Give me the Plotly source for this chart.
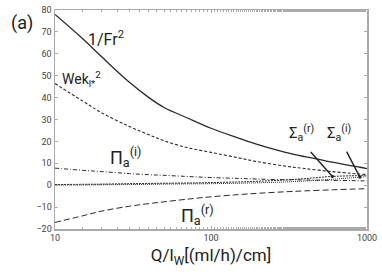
import math
import plotly.graph_objects as go

Q = [10, 15, 20, 30, 40, 50, 70, 100, 150, 200, 300, 400, 600, 800, 900, 1000]
inv_fr2 = [78, 67, 58.5, 47, 40, 35.5, 30.8, 26, 21.5, 18.5, 15, 13, 10.5, 8.8, 8.2, 7.6]
wek2 = [46.4, 38.5, 33, 26.8, 23, 20.3, 17.2, 15, 12.5, 10.7, 8.7, 7.6, 6.2, 5.4, 5.1, 4.9]
pi_i = [7.8, 6.8, 6.2, 5.3, 4.8, 4.5, 4.0, 3.5, 3.1, 2.8, 2.5, 2.4, 2.2, 2.1, 2.0, 2.0]
pi_r = [-17, -14, -11.8, -9.6, -8.4, -7.6, -6.4, -5.3, -4.3, -3.7, -3.0, -2.6, -2.1, -1.8, -1.7, -1.6]
sig_r = [0.3, 0.4, 0.5, 0.7, 0.8, 0.9, 1.0, 1.2, 1.5, 1.8, 2.4, 3.0, 4.0, 4.3, 4.4, 4.5]
sig_i = [0.0, 0.1, 0.2, 0.3, 0.4, 0.5, 0.6, 0.7, 0.9, 1.1, 1.5, 1.9, 2.7, 3.4, 3.7, 3.9]

x_ticks = [10, 100, 1000]
y_ticks = [-20, -10, 0, 10, 20, 30, 40, 50, 60, 70, 80]

LC = "#2a2a2a"
FONT = "Liberation Sans Narrow, Roboto, Noto Sans"
fig = go.Figure()
fig.add_trace(go.Scatter(x=Q, y=inv_fr2, mode="lines", line=dict(color=LC, width=1.3, shape="spline")))
fig.add_trace(go.Scatter(x=Q, y=wek2, mode="lines", line=dict(color=LC, width=1.1, dash="3px,2px", shape="spline")))
fig.add_trace(go.Scatter(x=Q, y=pi_i, mode="lines", line=dict(color=LC, width=1.0, dash="4px,2px,1px,2px", shape="spline")))
fig.add_trace(go.Scatter(x=Q, y=pi_r, mode="lines", line=dict(color=LC, width=1.0, dash="6px,3px", shape="spline")))
fig.add_trace(go.Scatter(x=Q, y=sig_r, mode="lines", line=dict(color=LC, width=1.0, dash="2px,1px", shape="spline")))
fig.add_trace(go.Scatter(x=Q, y=sig_i, mode="lines", line=dict(color=LC, width=1.0, dash="1px,1px", shape="spline")))

W, H = 382, 278
L, R, T, B = 55, 14, 5, 49
pw, ph = W - L - R, H - T - B

labels = [
    (106, 34, "1/Fr<sup>2</sup>", 16),
    (82, 76, "Wek<sub>l*</sub><sup>2</sup>", 14),
    (126, 155, "Π<sub>a</sub><sup>(i)</sup>", 18),
    (198, 215, "Π<sub>a</sub><sup>(r)</sup>", 18),
    (302, 131, "Σ<sub>a</sub><sup>(r)</sup>", 15),
    (340, 131, "Σ<sub>a</sub><sup>(i)</sup>", 15),
]
final = [dict(x=0.0, y=1.0, xref="paper", yref="paper", xshift=-20, text="(a)", showarrow=False,
              xanchor="right", yanchor="top", font=dict(size=18, family=FONT, color="#222"))]
for px, py, txt, sz in labels:
    final.append(dict(x=(px - L) / pw, y=1 - (py - T) / ph, xref="paper", yref="paper",
                      xanchor="center", yanchor="middle", text=txt, showarrow=False,
                      font=dict(size=sz, family=FONT, color="#222")))

final.append(dict(x=math.log10(Q[12]), y=sig_r[12], xref="x", yref="y", ax=-23, ay=-26, text="",
                  showarrow=True, arrowhead=6, arrowsize=0.6, arrowwidth=1.4, arrowcolor="#222"))
final.append(dict(x=math.log10(Q[14]), y=sig_i[14], xref="x", yref="y", ax=-14, ay=-27, text="",
                  showarrow=True, arrowhead=6, arrowsize=0.6, arrowwidth=1.4, arrowcolor="#222"))

axis_common = dict(showline=True, linecolor="#aaaaaa", linewidth=1.5, mirror="ticks", ticks="inside",
                   tickcolor="#aaaaaa", ticklen=3, showgrid=False, zeroline=False,
                   tickfont=dict(family=FONT, size=9, color="#444"))
fig.update_xaxes(type="log", range=[1, 3], tickvals=x_ticks, ticktext=[str(v) for v in x_ticks],
                 minor=dict(ticks="inside", ticklen=2, tickcolor="#aaaaaa", showgrid=False),
                 title=dict(text="Q/l<sub>W</sub>[(ml/h)/cm]", font=dict(family=FONT, size=17, color="#222"),
                            standoff=7),
                 **axis_common)
fig.update_yaxes(range=[-20, 80], tickvals=y_ticks, **axis_common)
fig.update_layout(width=W, height=H, margin=dict(l=L, r=R, t=T, b=B), showlegend=False,
                  plot_bgcolor="white", paper_bgcolor="white", annotations=final)
fig.write_html("out.html", config={"displayModeBar": False, "staticPlot": True},
               post_script="document.body.style.margin='0';")
